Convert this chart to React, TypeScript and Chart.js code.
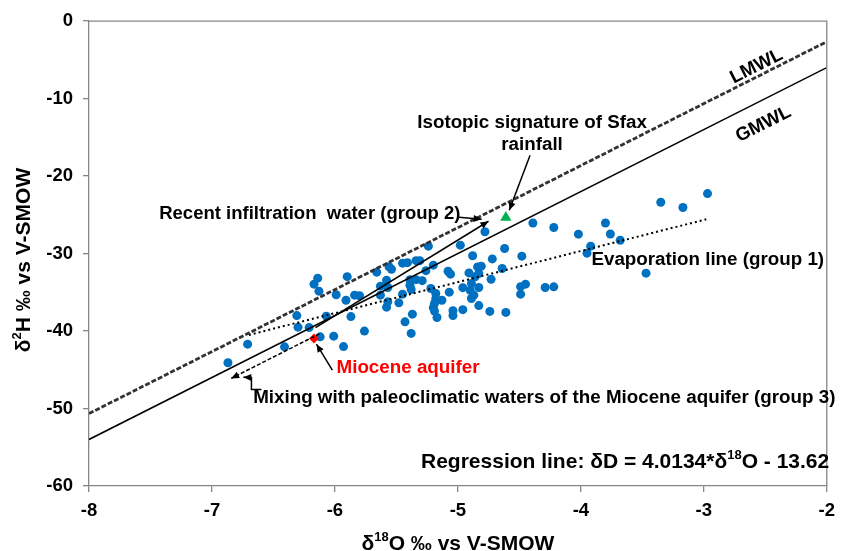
import React, { useEffect, useRef } from 'react';
import { Chart, registerables } from 'chart.js';

Chart.register(...registerables);

// ---- data ----
const sampleD18O = [
  -6.87, -6.71, -6.41, -6.31, -6.30, -6.21, -6.17, -6.14, -6.13, -6.12,
  -6.07, -6.01, -5.99, -5.93, -5.90, -5.91, -5.87, -5.84, -5.80, -5.76,
  -5.66, -5.63, -5.63, -5.58, -5.57, -5.56, -5.54, -5.58, -5.57, -5.48,
  -5.45, -5.41, -5.34, -5.31, -5.39, -5.34, -5.29, -5.39, -5.38, -5.45,
  -5.37, -5.43, -5.38, -5.26, -5.20, -5.24, -5.22, -5.18, -5.18, -5.13,
  -5.19, -5.20, -5.19, -5.17, -5.08, -5.06, -5.07, -5.04, -5.04, -4.98,
  -4.96, -4.96, -4.91, -4.88, -4.89, -4.86, -4.90, -4.87, -4.89, -4.84,
  -4.81, -4.83, -4.83, -4.83, -4.78, -4.73, -4.72, -4.74, -4.64, -4.62,
  -4.61, -4.48, -4.49, -4.45, -4.49, -4.39, -4.29, -4.22, -4.22, -4.02,
  -3.95, -3.92, -3.80, -3.76, -3.68, -3.47, -3.35, -3.17, -2.97,
];
const sampleD2H = [
  -44.10, -41.69, -42.04, -38.01, -39.50, -39.56, -33.95, -33.18, -34.85, -40.75,
  -38.08, -40.66, -35.31, -42.01, -32.98, -36.02, -38.14, -35.37, -35.44, -40.01,
  -32.40, -34.21, -35.37, -33.44, -34.38, -31.70, -32.02, -36.92, -36.23, -36.36,
  -31.24, -31.18, -30.92, -30.92, -33.37, -33.37, -33.50, -34.08, -34.64, -35.24,
  -37.82, -38.81, -40.31, -32.21, -31.50, -29.05, -34.51, -35.15, -35.82, -36.02,
  -36.44, -36.98, -37.43, -38.25, -32.28, -32.66, -34.98, -37.37, -38.01, -28.92,
  -34.40, -37.24, -32.50, -30.28, -33.86, -33.01, -34.73, -35.37, -35.80, -31.72,
  -31.63, -32.57, -36.72, -34.38, -27.18, -33.31, -30.69, -37.47, -31.93, -29.35,
  -37.60, -30.34, -34.27, -33.95, -35.24, -26.05, -34.38, -34.30, -26.64, -27.50,
  -29.95, -29.05, -26.05, -27.47, -28.28, -32.53, -23.38, -24.06, -22.26,
];
const rainfallD18O = [-4.61];
const rainfallD2H = [-25.35];
const mioceneD18O = [-6.17];
const mioceneD2H = [-40.95];

const gmwlX = [-8, -2];
const gmwlY = [-54, -6];
const lmwlX = [-8, -2];
const lmwlY = [-50.65, -2.65];
const evapX = [-6.7, -2.98];
const evapY = [-40.5, -25.58];

const xTickValues = [-8, -7, -6, -5, -4, -3, -2];
const yTickValues = [0, -10, -20, -30, -40, -50, -60];

// arrows (data coordinates)
const infiltrationArrowX = [-6.158, -4.751];
const infiltrationArrowY = [-39.57, -25.83];
const mixingArrowX = [-6.126, -6.844];
const mixingArrowY = [-40.36, -46.11];
const rainfallPointerX = [-4.413, -4.582];
const rainfallPointerY = [-17.32, -24.41];
const recentPointerX = [-4.992, -4.807];
const recentPointerY = [-25.31, -25.57];
const miocenePointerX = [-6.021, -6.150];
const miocenePointerY = [-45.04, -41.69];
const mixingPointerX = [-6.598, -6.679, -6.679, -6.745];
const mixingPointerY = [-47.53, -47.53, -46.0, -45.98];

const FONT = '"Liberation Sans", Arial, Helvetica, sans-serif';

type Part = { t: string; sup?: boolean };

function drawRich(ctx: CanvasRenderingContext2D, parts: Part[], x: number, y: number, size: number, align: 'left' | 'center', color: string) {
  const base = `bold ${size}px ${FONT}`;
  const supF = `bold ${Math.round(size * 0.62)}px ${FONT}`;
  const widths = parts.map((p) => { ctx.font = p.sup ? supF : base; return ctx.measureText(p.t).width; });
  const total = widths.reduce((a, b) => a + b, 0);
  let cx = align === 'center' ? x - total / 2 : x;
  ctx.fillStyle = color;
  ctx.textAlign = 'left';
  ctx.textBaseline = 'middle';
  parts.forEach((p, i) => {
    ctx.font = p.sup ? supF : base;
    ctx.fillText(p.t, cx, p.sup ? y - size * 0.3 : y);
    cx += widths[i];
  });
}

function drawArrow(ctx: CanvasRenderingContext2D, pts: { x: number; y: number }[], dash: number[], head = true) {
  ctx.save();
  ctx.strokeStyle = '#000';
  ctx.fillStyle = '#000';
  ctx.lineWidth = 1.5;
  ctx.setLineDash(dash);
  ctx.beginPath();
  ctx.moveTo(pts[0].x, pts[0].y);
  for (let i = 1; i < pts.length; i++) ctx.lineTo(pts[i].x, pts[i].y);
  ctx.stroke();
  ctx.setLineDash([]);
  if (head) {
    const a = pts[pts.length - 2];
    const b = pts[pts.length - 1];
    const ang = Math.atan2(b.y - a.y, b.x - a.x);
    const L = 8, W = 3.5;
    const bx = b.x - L * Math.cos(ang), by = b.y - L * Math.sin(ang);
    ctx.beginPath();
    ctx.moveTo(b.x, b.y);
    ctx.lineTo(bx - W * Math.sin(ang), by + W * Math.cos(ang));
    ctx.lineTo(bx + W * Math.sin(ang), by - W * Math.cos(ang));
    ctx.closePath();
    ctx.fill();
  }
  ctx.restore();
}

const annotationPlugin = {
  id: 'isoAnnotations',
  afterDatasetsDraw(chart: any) {
    const { ctx, chartArea, scales } = chart;
    const xs = scales.x, ys = scales.y;
    const P = (xv: number, yv: number) => ({ x: xs.getPixelForValue(xv), y: ys.getPixelForValue(yv) });
    const pts = (ax: number[], ay: number[]) => ax.map((v, i) => P(v, ay[i]));
    ctx.save();
    // frame top + right
    ctx.strokeStyle = '#868686';
    ctx.lineWidth = 1.3;
    ctx.beginPath();
    ctx.moveTo(chartArea.left, chartArea.top);
    ctx.lineTo(chartArea.right, chartArea.top);
    ctx.lineTo(chartArea.right, chartArea.bottom);
    ctx.stroke();

    drawArrow(ctx, pts(infiltrationArrowX, infiltrationArrowY), []);
    drawArrow(ctx, pts(mixingArrowX, mixingArrowY), [4, 2]);
    drawArrow(ctx, pts(rainfallPointerX, rainfallPointerY), []);
    drawArrow(ctx, pts(recentPointerX, recentPointerY), []);
    drawArrow(ctx, pts(miocenePointerX, miocenePointerY), []);
    drawArrow(ctx, pts(mixingPointerX, mixingPointerY), []);

    const S = 18.8;
    // rotated line labels
    const g0 = P(gmwlX[0], gmwlY[0]), g1 = P(gmwlX[1], gmwlY[1]);
    const ang = Math.atan2(g1.y - g0.y, g1.x - g0.x);
    [['LMWL', -2.571, -5.84], ['GMWL', -2.515, -13.32]].forEach(([t, xv, yv]) => {
      const p = P(xv as number, yv as number);
      ctx.save();
      ctx.translate(p.x, p.y);
      ctx.rotate(ang);
      drawRich(ctx, [{ t: t as string }], 0, 0, S, 'center', '#000');
      ctx.restore();
    });

    const lab = (t: string, xv: number, yv: number, align: 'left' | 'center', color = '#000', size = S) => {
      const p = P(xv, yv);
      drawRich(ctx, [{ t }], p.x, p.y, size, align, color);
    };
    lab('Isotopic signature of Sfax', -4.397, -13.11, 'center');
    lab('rainfall', -4.397, -16.03, 'center');
    lab('Recent infiltration  water (group 2)', -7.429, -24.84, 'left', '#000', 18.5);
    lab('Evaporation line (group 1)', -3.914, -30.77, 'left');
    lab('Miocene aquifer', -5.987, -44.75, 'left', '#FF0000');
    lab('Mixing with paleoclimatic waters of the Miocene aquifer (group 3)', -6.665, -48.65, 'left');

    const rp = P(-5.30, -56.9);
    drawRich(ctx, [{ t: 'Regression line: δD = 4.0134*δ' }, { t: '18', sup: true }, { t: 'O - 13.62' }], rp.x, rp.y, 21, 'left', '#000');

    // axis titles
    drawRich(ctx, [{ t: 'δ' }, { t: '18', sup: true }, { t: 'O ‰ vs V-SMOW' }], (chartArea.left + chartArea.right) / 2, 544, 21, 'center', '#000');
    ctx.save();
    ctx.translate(24, 260);
    ctx.rotate(-Math.PI / 2);
    drawRich(ctx, [{ t: 'δ' }, { t: '2', sup: true }, { t: 'H ‰ vs V-SMOW' }], 0, 0, 21, 'center', '#000');
    ctx.restore();

    ctx.restore();
  },
};

export default function App() {
  const canvasRef = useRef<HTMLCanvasElement | null>(null);

  useEffect(() => {
    if (!canvasRef.current) return;
    const toXY = (ax: number[], ay: number[]) => ax.map((v, i) => ({ x: v, y: ay[i] }));
    const chart = new Chart(canvasRef.current, {
      type: 'scatter',
      data: {
        datasets: [
          {
            label: 'Miocene aquifer',
            data: toXY(mioceneD18O, mioceneD2H),
            pointStyle: 'rectRot',
            pointRadius: 5,
            backgroundColor: '#FF0000',
            borderColor: '#FF0000',
            borderWidth: 0,
          },
          {
            label: 'Sfax rainfall',
            data: toXY(rainfallD18O, rainfallD2H),
            pointStyle: 'triangle',
            pointRadius: 6.5,
            backgroundColor: '#00B050',
            borderColor: '#00B050',
            borderWidth: 0,
          },
          {
            label: 'GMWL',
            data: toXY(gmwlX, gmwlY),
            showLine: true,
            pointRadius: 0,
            borderColor: '#000',
            borderWidth: 1.6,
          },
          {
            label: 'LMWL',
            data: toXY(lmwlX, lmwlY),
            showLine: true,
            pointRadius: 0,
            borderColor: '#333333',
            borderWidth: 2.8,
            borderDash: [5, 2],
          },
          {
            label: 'Evaporation line',
            data: toXY(evapX, evapY),
            showLine: true,
            pointRadius: 0,
            borderColor: '#000',
            borderWidth: 2,
            borderDash: [2, 3],
          },
          {
            label: 'Samples',
            data: toXY(sampleD18O, sampleD2H),
            pointStyle: 'circle',
            pointRadius: 4.5,
            backgroundColor: '#0070C0',
            borderColor: '#0070C0',
            borderWidth: 0,
          },
        ],
      },
      options: {
        animation: false,
        responsive: false,
        devicePixelRatio: 1,
        events: [],
        layout: { padding: { left: 0, top: 21, right: 8, bottom: 0 }, autoPadding: false },
        plugins: { legend: { display: false }, tooltip: { enabled: false } },
        scales: {
          x: {
            type: 'linear',
            min: -8,
            max: -2,
            afterFit: (s: any) => { s.height = 65; },
            afterBuildTicks: (s: any) => { s.ticks = xTickValues.map((v) => ({ value: v })); },
            ticks: { color: '#000', font: { family: FONT, size: 18.5, weight: 'bold' }, padding: 8, maxRotation: 0 },
            grid: { display: true, drawOnChartArea: false, drawTicks: true, tickLength: 6, color: '#868686', lineWidth: 1.3 },
            border: { display: true, color: '#868686', width: 1.3 },
          },
          y: {
            type: 'linear',
            min: -60,
            max: 0,
            afterFit: (s: any) => { s.width = 89; },
            afterBuildTicks: (s: any) => { s.ticks = yTickValues.map((v) => ({ value: v })); },
            ticks: { color: '#000', font: { family: FONT, size: 18.5, weight: 'bold' }, padding: 10 },
            grid: { display: true, drawOnChartArea: false, drawTicks: true, tickLength: 6, color: '#868686', lineWidth: 1.3 },
            border: { display: true, color: '#868686', width: 1.3 },
          },
        },
      },
      plugins: [annotationPlugin],
    } as any);
    return () => chart.destroy();
  }, []);

  return (
    <div style={{ position: 'absolute', left: 0, top: 0, width: 843, height: 551, background: '#fff' }}>
      <canvas ref={canvasRef} width={843} height={551} style={{ display: 'block' }} />
    </div>
  );
}
